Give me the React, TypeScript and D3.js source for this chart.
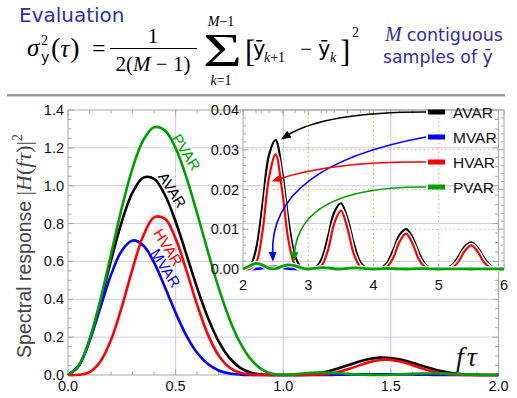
import React from "react";
import * as d3 from "d3";

// ---------- data ----------
const mainFreq = [
  0, 0.05, 0.1, 0.15, 0.2, 0.25, 0.3, 0.35, 0.4, 0.45, 0.5, 0.55, 0.6, 0.65, 0.7, 0.75, 0.8, 0.85, 0.9, 0.95,
  1.0, 1.05, 1.1, 1.15, 1.2, 1.25, 1.3, 1.35, 1.4, 1.45, 1.5, 1.55, 1.6, 1.65, 1.7, 1.75, 1.8, 1.85, 1.9, 1.95, 2.0,
];
const mainAVAR = [
  0, 0.0486, 0.1848, 0.3826, 0.6047, 0.8106, 0.9645, 1.0426, 1.0362, 0.9523, 0.8106, 0.6375, 0.4605, 0.3023,
  0.1772, 0.0901, 0.0378, 0.0119, 0.0023, 0.0001, 0, 0.0001, 0.0015, 0.0065, 0.0168, 0.0324, 0.0514, 0.0701,
  0.0846, 0.0917, 0.0901, 0.0803, 0.0648, 0.0469, 0.03, 0.0165, 0.0075, 0.0025, 0.0005, 0, 0,
];
const mainMVAR = [
  0, 0.0483, 0.1788, 0.3551, 0.5292, 0.657, 0.7107, 0.6846, 0.5935, 0.4648, 0.3285, 0.2083, 0.1172, 0.0576,
  0.024, 0.0081, 0.0021, 0.0003, 0, 0, 0, 0, 0, 0.0001, 0.0004, 0.0011, 0.002, 0.0031, 0.004, 0.0043, 0.0041,
  0.0033, 0.0023, 0.0014, 0.0007, 0.0003, 0.0001, 0, 0, 0, 0,
];
const mainHVAR = [
  0, 0.0011, 0.0157, 0.0701, 0.1857, 0.3603, 0.5612, 0.7357, 0.8331, 0.8258, 0.7205, 0.5528, 0.3703, 0.2133,
  0.1031, 0.04, 0.0116, 0.0022, 0.0002, 0, 0, 0, 0.0001, 0.0012, 0.0052, 0.0144, 0.0299, 0.0495, 0.068, 0.0795,
  0.0801, 0.0696, 0.0521, 0.0331, 0.0175, 0.0074, 0.0023, 0.0005, 0, 0, 0,
];
const mainPVAR = [
  0, 0.0487, 0.1873, 0.3943, 0.6382, 0.883, 1.0934, 1.2414, 1.3093, 1.2924, 1.1983, 1.0442, 0.8536, 0.6514,
  0.4601, 0.2962, 0.1695, 0.0821, 0.0302, 0.006, 0, 0.0033, 0.0089, 0.0128, 0.0131, 0.0105, 0.0064, 0.0026,
  0.0004, 0.0001, 0.0016, 0.004, 0.0063, 0.0078, 0.0079, 0.0069, 0.0051, 0.0031, 0.0014, 0.0003, 0,
];

const insetFreq = [
  2.0, 2.1, 2.2, 2.3, 2.4, 2.5, 2.6, 2.7, 2.8, 2.9, 3.0, 3.1, 3.2, 3.3, 3.4, 3.5, 3.6, 3.7, 3.8, 3.9, 4.0,
  4.1, 4.2, 4.3, 4.4, 4.5, 4.6, 4.7, 4.8, 4.9, 5.0, 5.1, 5.2, 5.3, 5.4, 5.5, 5.6, 5.7, 5.8, 5.9, 6.0,
];
const insetAVAR = [
  0, 0.00042, 0.005, 0.01641, 0.02878, 0.03242, 0.02453, 0.01191, 0.00309, 0.00022, 0, 0.00019, 0.00236,
  0.00797, 0.01434, 0.01654, 0.01279, 0.00634, 0.00168, 0.00012, 0, 0.00011, 0.00137, 0.0047, 0.00856, 0.01001,
  0.00784, 0.00393, 0.00105, 0.00008, 0, 0.00007, 0.0009, 0.00309, 0.00569, 0.0067, 0.00529, 0.00267, 0.00072,
  0.00005, 0,
];
const insetMVAR = [
  0, 0, 0.00004, 0.00021, 0.00046, 0.00053, 0.00033, 0.00011, 0.00001, 0, 0, 0, 0.00001, 0.00005, 0.00011,
  0.00014, 0.00009, 0.00003, 0, 0, 0, 0, 0, 0.00002, 0.00004, 0.00005, 0.00003, 0.00001, 0, 0, 0, 0, 0, 0.00001,
  0.00002, 0.00002, 0.00002, 0.00001, 0, 0, 0,
];
const insetHVAR = [
  0, 0.00004, 0.00154, 0.00955, 0.02314, 0.02882, 0.01972, 0.00693, 0.00095, 0.00002, 0, 0.00002, 0.00073,
  0.00464, 0.01153, 0.0147, 0.01029, 0.00369, 0.00051, 0.00001, 0, 0.00001, 0.00042, 0.00273, 0.00689, 0.0089,
  0.0063, 0.00229, 0.00032, 0.00001, 0, 0.00001, 0.00028, 0.0018, 0.00457, 0.00596, 0.00425, 0.00155, 0.00022,
  0, 0,
];
const insetPVAR = [
  0, 0.00074, 0.00143, 0.00098, 0.00017, 0.00008, 0.00066, 0.00106, 0.0008, 0.00024, 0, 0.00016, 0.00034,
  0.00027, 0.00006, 0.00001, 0.00015, 0.00028, 0.00023, 0.00007, 0, 0.00005, 0.00012, 0.0001, 0.00003, 0,
  0.00005, 0.0001, 0.00009, 0.00003, 0, 0.00002, 0.00005, 0.00004, 0.00001, 0, 0.00002, 0.00005, 0.00004,
  0.00001, 0,
];

const seriesNames = ["AVAR", "MVAR", "HVAR", "PVAR"];
const seriesColors = ["#000000", "#0000ff", "#ff0000", "#00a000"];
const mainValues = [mainAVAR, mainMVAR, mainHVAR, mainPVAR];
const insetValues = [insetAVAR, insetMVAR, insetHVAR, insetPVAR];

const mainXTicks = [0, 0.5, 1.0, 1.5, 2.0];
const mainYTicks = [0, 0.2, 0.4, 0.6, 0.8, 1.0, 1.2, 1.4];
const insetXTicks = [2, 3, 4, 5, 6];
const insetYTicks = [0, 0.01, 0.02, 0.03, 0.04];

// curve-label anchor points on each curve (data units) and side offset (px, + = outside)
const curveLabelF = [0.45, 0.42, 0.505, 0.515];
const curveLabelV = [0.953, 0.541, 0.703, 1.152];
const curveLabelSide = [9, 8.5, -10, 9];
const arrowTargetF = [2.58, 2.46, 2.44, 2.78];
const arrowTargetV = [0.0326, 0.0018, 0.0221, 0.0018];

const SANS = "'Liberation Sans', Arial, sans-serif";
const DSANS = "'DejaVu Sans', sans-serif";
const SERIF = "'Liberation Serif', 'Times New Roman', serif";
const BLUE = "#2e2eaa";

export default function App() {
  const W = 517;
  const H = 398;
  const x = d3.scaleLinear().domain([0, 2]).range([68, 498.5]);
  const y = d3.scaleLinear().domain([0, 1.4]).range([375, 110]);
  const xi = d3.scaleLinear().domain([2, 6]).range([243, 504]);
  const yi = d3.scaleLinear().domain([0, 0.04]).range([269, 110]);

  const mainLine = (vals: number[]) =>
    d3
      .line<number>()
      .x((_, i) => x(mainFreq[i]))
      .y((d) => y(d))
      .curve(d3.curveCatmullRom.alpha(0.5))(vals) || "";
  const insetLine = (vals: number[]) =>
    d3
      .line<number>()
      .x((_, i) => xi(insetFreq[i]))
      .y((d) => yi(d))
      .curve(d3.curveCatmullRom.alpha(0.5))(vals) || "";

  const frame = "#a8a8a8";
  const grid = "#cacaf0";
  const orange = "#f2a84e";

  const [x0, x1] = x.range();
  const [y0, y1] = y.range();
  const [ix0, ix1] = xi.range();
  const [iy0, iy1] = yi.range();

  const rot = 58;
  const ux = Math.sin((rot * Math.PI) / 180);
  const uy = -Math.cos((rot * Math.PI) / 180);

  // arrows from legend
  const legendY = [112, 137, 162, 187];
  const legendX0 = 428;
  const arrowCtrl = [
    [325, 112],
    [269, 166],
    [335, 161],
    [299, 186],
  ];

  const arrows = seriesNames.map((n, i) => {
    const sx = legendX0 - 2;
    const sy = legendY[i];
    const [cx, cy] = arrowCtrl[i];
    const tx = xi(arrowTargetF[i]);
    const ty = yi(arrowTargetV[i]);
    let dx = tx - cx;
    let dy = ty - cy;
    const len = Math.hypot(dx, dy);
    dx /= len;
    dy /= len;
    const L = 10;
    const Wd = 4;
    const bx = tx - L * dx;
    const by = ty - L * dy;
    const head = `${tx},${ty} ${bx - Wd * dy},${by + Wd * dx} ${bx + Wd * dy},${by - Wd * dx}`;
    const path = `M${sx},${sy} Q${cx},${cy} ${bx + 2 * dx},${by + 2 * dy}`;
    return { path, head, color: seriesColors[i], key: n };
  });

  return (
    <svg
      width={W}
      height={H}
      style={{ position: "absolute", left: 0, top: 0, background: "#fff" }}
      xmlns="http://www.w3.org/2000/svg"
    >
      <rect x={0} y={0} width={W} height={H} fill="#fff" />
      {/* ---------- header ---------- */}
      <text x={19} y={22} fontFamily={DSANS} fontSize={20} fill={BLUE}>
        Evaluation
      </text>
      <g fontFamily={SERIF} fill="#000">
        <text x={27} y={56} fontSize={25} fontStyle="italic">σ</text>
        <text x={41} y={45} fontSize={14}>2</text>
        <text x={41} y={62} fontSize={14} fontFamily={DSANS}>y</text>
        <text x={51} y={57} fontSize={28}>
          (<tspan fontStyle="italic" fontSize={25}>τ</tspan>
          <tspan dx={1}>)</tspan>
        </text>
        <text x={92} y={56} fontSize={24}>=</text>
        <text x={153} y={43} fontSize={21} textAnchor="middle">1</text>
        <line x1={110} x2={197} y1={48.5} y2={48.5} stroke="#000" strokeWidth={1} />
        <text x={153} y={71} fontSize={21} textAnchor="middle">
          2(<tspan fontStyle="italic">M</tspan> − 1)
        </text>
        <text x={203} y={66} fontSize={46} textLength={39} lengthAdjust="spacingAndGlyphs">Σ</text>
        <text x={221} y={26} fontSize={14} textAnchor="middle">
          <tspan fontStyle="italic">M</tspan>−1
        </text>
        <text x={221} y={85} fontSize={14} textAnchor="middle">
          <tspan fontStyle="italic">k</tspan>=1
        </text>
        <text x={245} y={62} fontSize={31}>[</text>
        <text x={253} y={56} fontSize={21} fontFamily={DSANS}>ȳ</text>
        <text x={264} y={62} fontSize={14}>
          <tspan fontStyle="italic">k</tspan>+1
        </text>
        <text x={300} y={56} fontSize={21}>−</text>
        <text x={318} y={56} fontSize={21} fontFamily={DSANS}>ȳ</text>
        <text x={330} y={62} fontSize={14} fontStyle="italic">k</text>
        <text x={340} y={62} fontSize={31}>]</text>
        <text x={352} y={37} fontSize={14}>2</text>
      </g>
      <text x={385} y={41} fill={BLUE}>
        <tspan fontFamily={SERIF} fontStyle="italic" fontSize={20}>M</tspan>
        <tspan fontFamily={DSANS} fontSize={17.5} dx={5}>contiguous</tspan>
      </text>
      <text x={383} y={63} fontSize={17.3} fontFamily={DSANS} fill={BLUE}>
        samples of ȳ
      </text>
      <rect x={7} y={94} width={498} height={2.5} fill="#999999" />

      {/* ---------- main plot ---------- */}
      {mainYTicks.slice(1, -1).map((t) => (
        <line key={"gy" + t} x1={x0} x2={x1} y1={y(t)} y2={y(t)} stroke={grid} strokeWidth={1} />
      ))}
      {mainXTicks.slice(1, -1).map((t) => (
        <line key={"gx" + t} x1={x(t)} x2={x(t)} y1={y0} y2={y1} stroke={grid} strokeWidth={1} />
      ))}
      <rect x={x0} y={y1} width={x1 - x0} height={y0 - y1} fill="none" stroke={frame} strokeWidth={1} />
      {x.ticks(20).map((t) => {
        const major = mainXTicks.some((m) => Math.abs(m - t) < 1e-9);
        const L = major ? 6 : 3.5;
        return (
          <g key={"tx" + t}>
            <line x1={x(t)} x2={x(t)} y1={y0} y2={y0 - L} stroke={frame} />
            <line x1={x(t)} x2={x(t)} y1={y1} y2={y1 + L} stroke={frame} />
          </g>
        );
      })}
      {y.ticks(28).map((t) => {
        const major = mainYTicks.some((m) => Math.abs(m - t) < 1e-9);
        const L = major ? 6 : 3.5;
        return (
          <g key={"ty" + t}>
            <line x1={x0} x2={x0 + L} y1={y(t)} y2={y(t)} stroke={frame} />
            <line x1={x1} x2={x1 - L} y1={y(t)} y2={y(t)} stroke={frame} />
          </g>
        );
      })}
      {mainXTicks.map((t) => (
        <text key={"lx" + t} x={x(t)} y={391} textAnchor="middle" fontFamily={SANS} fontSize={14.5} fill="#111">
          {t.toFixed(1)}
        </text>
      ))}
      {mainYTicks.map((t) => (
        <text key={"ly" + t} x={64} y={y(t) + 5} textAnchor="end" fontFamily={SANS} fontSize={14.5} fill="#111">
          {t.toFixed(1)}
        </text>
      ))}
      <text transform="translate(31,246) rotate(-90)" textAnchor="middle" fontSize={19.5} fill="#444">
        <tspan fontFamily={SANS}>Spectral response </tspan>
        <tspan fontFamily={SERIF} fontSize={22}>
          |<tspan fontStyle="italic">H</tspan>(<tspan fontStyle="italic">f</tspan>
          <tspan fontStyle="italic" dx={1}>τ</tspan>)|
        </tspan>
        <tspan fontFamily={SERIF} fontSize={14} dy={-9}>2</tspan>
      </text>
      <text x={456} y={366} fontFamily={SERIF} fontStyle="italic" fontSize={28} fill="#111">
        f<tspan dx={3}>τ</tspan>
      </text>

      {mainValues.map((vals, i) => (
        <path
          key={"m" + i}
          d={mainLine(vals)}
          fill="none"
          stroke={seriesColors[i]}
          strokeWidth={2.6}
          strokeLinejoin="round"
        />
      ))}
      {seriesNames.map((n, i) => {
        const cx = x(curveLabelF[i]) + curveLabelSide[i] * ux;
        const cy = y(curveLabelV[i]) + curveLabelSide[i] * uy;
        return (
          <text
            key={"cl" + n}
            transform={`translate(${cx},${cy}) rotate(${rot})`}
            textAnchor="middle"
            dominantBaseline="central"
            fontFamily={SANS}
            fontSize={15}
            fill={seriesColors[i]}
          >
            {n}
          </text>
        );
      })}

      {/* ---------- inset ---------- */}
      {insetYTicks.slice(1, -1).map((t) => (
        <line
          key={"igy" + t}
          x1={ix0}
          x2={ix1}
          y1={yi(t)}
          y2={yi(t)}
          stroke={orange}
          strokeWidth={1.2}
          strokeDasharray="1.3 3"
        />
      ))}
      {insetXTicks.slice(1, -1).map((t) => (
        <line
          key={"igx" + t}
          x1={xi(t)}
          x2={xi(t)}
          y1={iy0}
          y2={iy1}
          stroke={orange}
          strokeWidth={1.2}
          strokeDasharray="1.3 3"
        />
      ))}
      <rect x={ix0} y={iy1} width={ix1 - ix0} height={iy0 - iy1} fill="none" stroke={frame} strokeWidth={1} />
      {xi.ticks(20).map((t) => {
        const major = Math.abs(t - Math.round(t)) < 1e-9;
        const L = major ? 5 : 3;
        return (
          <g key={"itx" + t}>
            <line x1={xi(t)} x2={xi(t)} y1={iy0} y2={iy0 - L} stroke={frame} />
            <line x1={xi(t)} x2={xi(t)} y1={iy1} y2={iy1 + L} stroke={frame} />
          </g>
        );
      })}
      {yi.ticks(20).map((t) => {
        const major = insetYTicks.some((m) => Math.abs(m - t) < 1e-9);
        const L = major ? 5 : 3;
        return (
          <g key={"ity" + t}>
            <line x1={ix0} x2={ix0 + L} y1={yi(t)} y2={yi(t)} stroke={frame} />
            <line x1={ix1} x2={ix1 - L} y1={yi(t)} y2={yi(t)} stroke={frame} />
          </g>
        );
      })}
      {insetXTicks.map((t) => (
        <text key={"ilx" + t} x={xi(t)} y={290} textAnchor="middle" fontFamily={SANS} fontSize={14.5} fill="#111">
          {t}
        </text>
      ))}
      {insetYTicks.map((t) => (
        <text key={"ily" + t} x={239} y={yi(t) + 5} textAnchor="end" fontFamily={SANS} fontSize={14.5} fill="#111">
          {t.toFixed(2)}
        </text>
      ))}
      {insetValues.map((vals, i) => (
        <g key={"iv" + i}>
          <path d={insetLine(vals)} fill="none" stroke="#fff" strokeWidth={5} strokeLinejoin="round" />
          <path
            d={insetLine(vals)}
            fill="none"
            stroke={seriesColors[i]}
            strokeWidth={i === 1 || i === 3 ? 2.8 : 2.2}
            strokeLinejoin="round"
          />
        </g>
      ))}
      {arrows.map((a) => (
        <g key={"ar" + a.key}>
          <path d={a.path} fill="none" stroke={a.color} strokeWidth={1.6} />
          <polygon points={a.head} fill={a.color} />
        </g>
      ))}
      {seriesNames.map((n, i) => (
        <g key={"lg" + n}>
          <line x1={legendX0} x2={legendX0 + 17} y1={legendY[i]} y2={legendY[i]} stroke={seriesColors[i]} strokeWidth={5} />
          <text
            x={453}
            y={legendY[i]}
            dominantBaseline="central"
            fontFamily={SANS}
            fontSize={15.5}
            fill="#111"
          >
            {n}
          </text>
        </g>
      ))}
    </svg>
  );
}
